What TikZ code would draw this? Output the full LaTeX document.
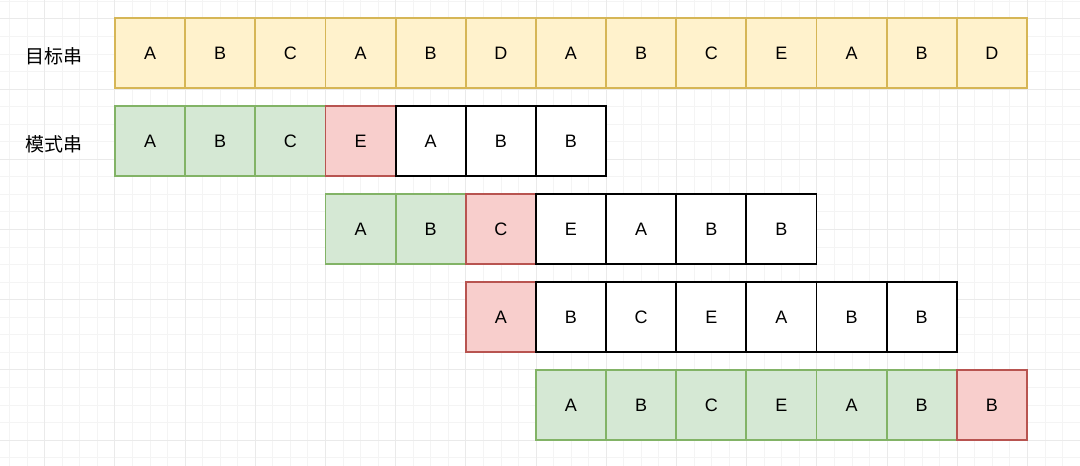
\documentclass[tikz,border=0pt]{standalone}
\usepackage{fontspec}
\setmainfont{Liberation Sans}
\newfontfamily\cjk{Noto Sans CJK SC}
\definecolor{gridminor}{HTML}{F4F4F4}
\definecolor{gridmajor}{HTML}{EAEAEA}
\definecolor{yfill}{HTML}{FFF2CC}
\definecolor{ydraw}{HTML}{D6B656}
\definecolor{gfill}{HTML}{D5E8D4}
\definecolor{gdraw}{HTML}{82B366}
\definecolor{rfill}{HTML}{F8CECC}
\definecolor{rdraw}{HTML}{B85450}
\begin{document}
\begin{tikzpicture}[x=1pt,y=-1pt,
  cell/.style={rectangle,anchor=north west,minimum width=70.15pt,minimum height=70pt,inner sep=0pt,outer sep=0pt,font=\fontsize{18}{20}\selectfont},
  yl/.style={fill=yfill},
  gr/.style={fill=gfill},
  rd/.style={fill=rfill},
  wt/.style={fill=white},
  ylb/.style={draw=ydraw,line width=1.8pt},
  grb/.style={draw=gdraw,line width=1.8pt},
  rdb/.style={draw=rdraw,line width=1.8pt},
  wtb/.style={draw=black,line width=1.8pt},
  lbl/.style={font=\cjk\fontsize{19}{21}\selectfont,inner sep=0pt},
  minorline/.style={draw=gridminor,line width=0.8pt},
  majorline/.style={draw=gridmajor,line width=0.9pt}]
\useasboundingbox (0,0) rectangle (1080,466);
\fill[white] (0,0) rectangle (1080,466);
% grid
\foreach \i in {-7,...,55} \draw[minorline] ({114.8+17.55*\i},0) -- ({114.8+17.55*\i},466);
\foreach \j in {-1,...,26} \draw[minorline] (0,{18.8+17.55*\j}) -- (1080,{18.8+17.55*\j});
\foreach \i in {-2,...,14} \draw[majorline] ({114.8+70.2*\i},0) -- ({114.8+70.2*\i},466);
\foreach \j in {0,...,6} \draw[majorline] (0,{18.8+70.2*\j}) -- (1080,{18.8+70.2*\j});
% labels
\node[lbl] (lbltarget) at (54,56) {目标串};
\node[lbl] (lblpattern) at (54,144) {模式串};
% row 1: target
\foreach \l [count=\i] in {A,B,C,A,B,D,A,B,C,E,A,B,D}
  \node[cell,yl] (t\i) at ({115+70.15*(\i-1)},18) {\l};
\foreach \i in {1,...,13}
  \draw[ylb] (t\i.north west) rectangle (t\i.south east);
% row 2
\foreach \l/\s [count=\i] in {A/gr,B/gr,C/gr,E/rd,A/wt,B/wt,B/wt}
  \node[cell,\s] (p\i) at ({115+70.15*(\i-1)},106) {\l};
\foreach \s [count=\i] in {grb,grb,grb,rdb,wtb,wtb,wtb}
  \draw[\s] (p\i.north west) rectangle (p\i.south east);
% row 3
\foreach \l/\s [count=\i] in {A/gr,B/gr,C/rd,E/wt,A/wt,B/wt,B/wt}
  \node[cell,\s] (q\i) at ({115+70.15*(\i+2)},194) {\l};
\foreach \s [count=\i] in {grb,grb,rdb,wtb,wtb,wtb,wtb}
  \draw[\s] (q\i.north west) rectangle (q\i.south east);
% row 4
\foreach \l/\s [count=\i] in {A/rd,B/wt,C/wt,E/wt,A/wt,B/wt,B/wt}
  \node[cell,\s] (u\i) at ({115+70.15*(\i+4)},282) {\l};
\foreach \s [count=\i] in {rdb,wtb,wtb,wtb,wtb,wtb,wtb}
  \draw[\s] (u\i.north west) rectangle (u\i.south east);
% row 5
\foreach \l/\s [count=\i] in {A/gr,B/gr,C/gr,E/gr,A/gr,B/gr,B/rd}
  \node[cell,\s] (v\i) at ({115+70.15*(\i+5)},370) {\l};
\foreach \s [count=\i] in {grb,grb,grb,grb,grb,grb,rdb}
  \draw[\s] (v\i.north west) rectangle (v\i.south east);
\end{tikzpicture}
\end{document}
